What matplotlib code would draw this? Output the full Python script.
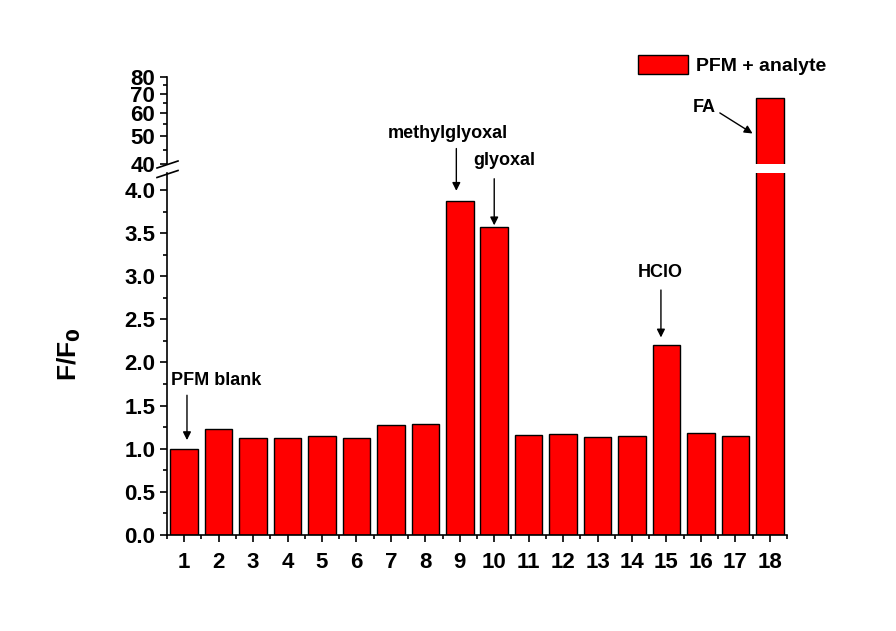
import matplotlib
matplotlib.use('Agg')
import matplotlib.pyplot as plt
from matplotlib.lines import Line2D
from matplotlib.ticker import FixedLocator, MultipleLocator, NullFormatter
import numpy as np

plt.rcParams['font.family'] = ['Liberation Sans', 'DejaVu Sans']
plt.rcParams['font.weight'] = 'bold'

# ============================== data ==============================
samples = np.arange(1, 19)
ratio = [1.00, 1.23, 1.13, 1.12, 1.15, 1.13, 1.27, 1.29, 3.87, 3.57,
         1.16, 1.17, 1.14, 1.15, 2.20, 1.18, 1.15, 66.5]
upper_ticks = [40, 50, 60, 70, 80]
upper_minor = [45, 55, 65, 75]

# ============================== figure ============================
fig = plt.figure(figsize=(8.96, 6.31), dpi=100)
fig.patch.set_facecolor('white')

W, H = 896, 631
def fx(px):
    return px / W
def fy(py):
    return 1 - py / H

ax_lo = fig.add_axes([fx(167), fy(535), fx(787) - fx(167), fy(172.7) - fy(535)])
ax_hi = fig.add_axes([fx(167), fy(164.5), fx(787) - fx(167), fy(76.7) - fy(164.5)])

bar_kw = dict(width=0.8, color='#ff0000', edgecolor='black', linewidth=1.0)
ax_lo.bar(samples, ratio, label='PFM + analyte', **bar_kw)
ax_hi.bar(samples, ratio, bottom=1, **bar_kw)

# lower axes
ax_lo.set_xlim(0.5, 18.5)
ax_lo.set_ylim(0, 4.2)
ax_lo.set_yticks(np.arange(0, 4.01, 0.5))
ax_lo.set_yticklabels([f'{v:.1f}' for v in np.arange(0, 4.01, 0.5)])
ax_lo.yaxis.set_minor_locator(MultipleLocator(0.25))
ax_lo.set_xticks(samples)
ax_lo.xaxis.set_minor_locator(FixedLocator(np.arange(0.5, 18.6, 1.0)))
for s in ['top', 'right']:
    ax_lo.spines[s].set_visible(False)

# upper axes (log scale, 40-80)
ax_hi.set_yscale('log')
ax_hi.set_xlim(0.5, 18.5)
ax_hi.set_ylim(40, 80)
ax_hi.yaxis.set_major_locator(FixedLocator(upper_ticks))
ax_hi.yaxis.set_minor_locator(FixedLocator(upper_minor))
ax_hi.yaxis.set_minor_formatter(NullFormatter())
ax_hi.set_yticklabels([str(v) for v in upper_ticks])
ax_hi.set_xticks([])
for s in ['top', 'right', 'bottom']:
    ax_hi.spines[s].set_visible(False)

for ax in (ax_lo, ax_hi):
    ax.set_facecolor('none')
    for s in ax.spines.values():
        s.set_linewidth(1.2)
    ax.tick_params(which='major', direction='out', length=5, width=1.2,
                   labelsize=16)
    ax.tick_params(which='minor', direction='out', length=3, width=1.2)

ax_lo.tick_params(axis='x', pad=7)

ax_lo.set_ylabel('F/F$_\\mathbf{0}$', fontsize=19, fontweight='bold',
                 labelpad=30)

# break marks on the left spine
for py in (164.5, 174.0):
    fig.add_artist(Line2D([fx(157), fx(178)], [fy(py + 3.5), fy(py - 3.5)],
                          transform=fig.transFigure, color='black', lw=1.2))

# annotations
arrow = dict(arrowstyle='-|>', color='black', lw=1.0, mutation_scale=12,
             shrinkA=0, shrinkB=0)
fs = 13
ax_lo.annotate('', xy=(1.08, 1.10), xytext=(1.08, 1.62), arrowprops=arrow,
               annotation_clip=False)
ax_lo.text(0.62, 1.79, 'PFM blank', fontsize=fs, fontweight='bold',
           ha='left', va='center')
ax_lo.annotate('', xy=(8.9, 3.99), xytext=(8.9, 4.48), arrowprops=arrow,
               annotation_clip=False)
ax_lo.text(8.66, 4.66, 'methylglyoxal', fontsize=fs, fontweight='bold',
           ha='center', va='center', clip_on=False)
ax_lo.annotate('', xy=(10.0, 3.59), xytext=(10.0, 4.13), arrowprops=arrow,
               annotation_clip=False)
ax_lo.text(10.3, 4.34, 'glyoxal', fontsize=fs, fontweight='bold',
           ha='center', va='center', clip_on=False)
ax_lo.annotate('', xy=(14.84, 2.29), xytext=(14.84, 2.84), arrowprops=arrow,
               annotation_clip=False)
ax_lo.text(14.81, 3.04, 'HClO', fontsize=fs, fontweight='bold',
           ha='center', va='center')
ax_hi.annotate('', xy=(17.5, 51.1), xytext=(16.55, 60.1), arrowprops=arrow,
               annotation_clip=False)
ax_hi.text(16.11, 62.9, 'FA', fontsize=fs, fontweight='bold',
           ha='center', va='center')

# legend
fig.legend(loc='upper left', bbox_to_anchor=(fx(620), fy(38)), frameon=False,
           fontsize=14, handlelength=2.6, handleheight=1.1, handletextpad=0.4)

fig.savefig('out.png', dpi=100, facecolor='white')
